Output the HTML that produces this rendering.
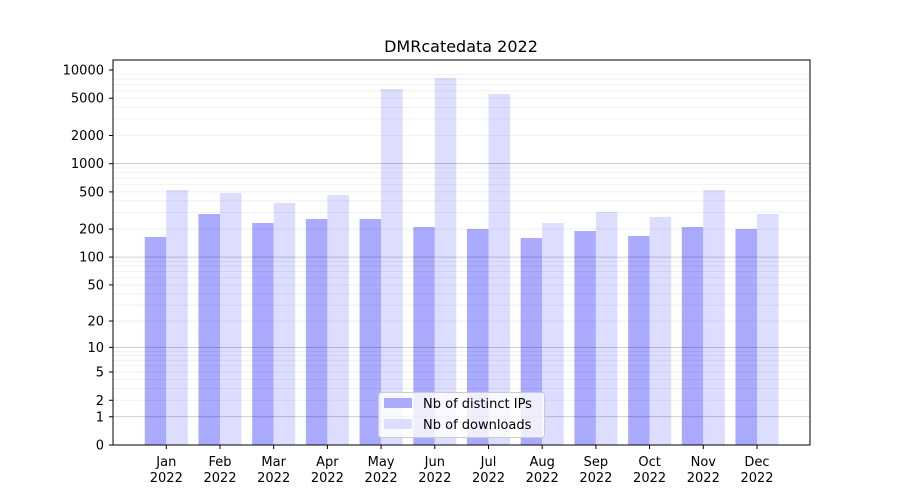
<!DOCTYPE html>
<html><head><meta charset="utf-8"><style>
body{margin:0;background:#fff;}
svg{display:block;font-family:"DejaVu Sans","Liberation Sans",sans-serif;}
</style></head><body>
<svg id="c" width="900" height="500" xmlns="http://www.w3.org/2000/svg">
<rect width="900" height="500" fill="#fff"/>
<g id="bars"></g>
<g id="grid"></g>
<rect x="113" y="60" width="697" height="385" fill="none" stroke="#000" stroke-width="1"/>
<g id="ticks" font-size="13" fill="#000"></g>
<text x="461" y="52" font-size="16" text-anchor="middle">DMRcatedata 2022</text>
<g>
<rect x="378.5" y="392.5" width="166" height="45" fill="#fff" fill-opacity="0.8" stroke="#ccc" rx="3"/>
<rect x="384" y="398" width="28" height="10" fill="#aaaaff"/>
<text x="423" y="408" font-size="13">Nb of distinct IPs</text>
<rect x="384" y="419" width="28" height="10" fill="#ddddff"/>
<text x="423" y="429" font-size="13">Nb of downloads</text>
</g>
</svg>
<script>
var NS="http://www.w3.org/2000/svg";
function Y(v){return 445-93.75*Math.log10(1+v);}
function el(p,t,a,txt){var e=document.createElementNS(NS,t);for(var k in a)e.setAttribute(k,a[k]);if(txt!=null)e.textContent=txt;p.appendChild(e);return e;}
var g=document.getElementById('grid');
for(var d=1;d<=1000;d*=10){for(var m=2;m<=9;m++){var y=Y(m*d);el(g,'line',{x1:113,x2:810,y1:y,y2:y,stroke:'#000','stroke-opacity':0.07,'stroke-width':0.8});}}
[1,10,100,1000].forEach(function(v){var y=Y(v);el(g,'line',{x1:113,x2:810,y1:y,y2:y,stroke:'#000','stroke-opacity':0.25,'stroke-width':0.8});});
var tk=document.getElementById('ticks');
[0,1,2,5,10,20,50,100,200,500,1000,2000,5000,10000].forEach(function(v){var y=Y(v);
el(tk,'line',{x1:109,x2:113,y1:y,y2:y,stroke:'#000'});
el(tk,'text',{x:104,y:y+4.5,'text-anchor':'end'},String(v));});
var ips=[237,214,223,219,219,227,229,238,231,236,227,229];
var dl=[190,193,203,195,89,78,94,223,212,217,190,214];
var mon=['Jan','Feb','Mar','Apr','May','Jun','Jul','Aug','Sep','Oct','Nov','Dec'];
var b=document.getElementById('bars');
for(var i=0;i<12;i++){var cx=166.3+i*53.7;
el(b,'rect',{x:cx-21.5,y:ips[i],width:21.5,height:445-ips[i],fill:'#aaaaff'});
el(b,'rect',{x:cx,y:dl[i],width:21.5,height:445-dl[i],fill:'#ddddff'});
el(tk,'line',{x1:cx,x2:cx,y1:445,y2:449,stroke:'#000'});
el(tk,'text',{x:cx,y:466,'text-anchor':'middle'},mon[i]);
el(tk,'text',{x:cx,y:482,'text-anchor':'middle'},'2022');}
</script>
</body></html>
